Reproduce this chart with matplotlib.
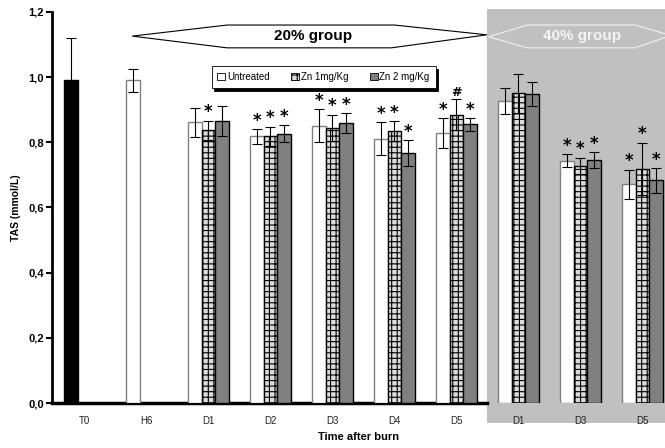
import matplotlib
matplotlib.use("Agg")
import matplotlib.pyplot as plt
import numpy as np
from matplotlib.patches import Polygon, Rectangle, Patch

plt.rcParams["font.family"] = ["Liberation Sans", "DejaVu Sans"]
plt.rcParams["hatch.linewidth"] = 0.8

# baseline bars (single)
base_labels = ["T0", "H6"]
base_mean = [0.99, 0.99]
base_sd = [0.13, 0.035]

# treated groups: 20% burn D1-D5, then 40% burn D1, D3, D5
group_labels = ["D1", "D2", "D3", "D4", "D5", "D1", "D3", "D5"]
untreated = [0.861, 0.818, 0.851, 0.811, 0.829, 0.926, 0.744, 0.671]
untreated_sd = [0.045, 0.022, 0.050, 0.050, 0.045, 0.040, 0.020, 0.045]
zn1 = [0.837, 0.818, 0.845, 0.835, 0.885, 0.951, 0.728, 0.719]
zn1_sd = [0.030, 0.030, 0.040, 0.030, 0.047, 0.060, 0.025, 0.080]
zn2 = [0.865, 0.827, 0.860, 0.766, 0.855, 0.948, 0.745, 0.683]
zn2_sd = [0.045, 0.025, 0.030, 0.040, 0.020, 0.037, 0.025, 0.038]
untreated_sig = ["", "*", "*", "*", "*", "", "*", "*"]
zn1_sig = ["*", "*", "*", "*", "#", "", "*", "*"]
zn2_sig = ["", "*", "*", "*", "*", "", "*", "*"]

series_names = ["Untreated", "Zn 1mg/Kg", "Zn 2 mg/Kg"]

fig = plt.figure(figsize=(6.65, 4.48), dpi=100)
ax = fig.add_axes([52 / 665, 1 - 403 / 448, 613 / 665, 391 / 448])
ax.patch.set_alpha(0)

w = 0.225
n_base = len(base_labels)
xs_all = np.arange(n_base + len(group_labels))
gx = xs_all[n_base:]
grey_start = gx[5] - 0.5

err_kw = dict(ecolor="black", elinewidth=0.8, capsize=3.5, capthick=0.8, zorder=4)

# grey shaded 40% region
ax.add_patch(Rectangle((grey_start, -0.062), 10, 1.272, facecolor="#c0c0c0",
                       edgecolor="none", zorder=0, clip_on=False))

# baseline bars
ax.bar(xs_all[0] - w, base_mean[0], w, color="black", edgecolor="black", lw=1, zorder=3)
ax.errorbar(xs_all[0] - w, base_mean[0], yerr=base_sd[0], fmt="none", **err_kw)
ax.bar(xs_all[1] - w, base_mean[1], w, color="white", edgecolor="#808080", lw=1, zorder=3)
ax.errorbar(xs_all[1] - w, base_mean[1], yerr=base_sd[1], fmt="none", **err_kw)

styles = [
    dict(facecolor="white", edgecolor="#808080", hatch=None),
    dict(facecolor="#dcdcdc", edgecolor="black", hatch="+++"),
    dict(facecolor="#808080", edgecolor="black", hatch=None),
]
series = [(untreated, untreated_sd, untreated_sig),
          (zn1, zn1_sd, zn1_sig),
          (zn2, zn2_sd, zn2_sig)]

for k, ((vals, sds, sig), st) in enumerate(zip(series, styles)):
    x = gx + (k - 1) * w
    ax.bar(x, vals, w, lw=1, zorder=3, **st)
    ax.errorbar(x, vals, yerr=sds, fmt="none", **err_kw)
    for xi, v, s, m in zip(x, vals, sds, sig):
        if m:
            ax.annotate(m, (xi, v + s), xytext=(0, 6 if m == "*" else 5),
                        textcoords="offset points", ha="center", va="center",
                        fontsize=12 if m == "*" else 9, fontweight="bold",
                        family="DejaVu Sans", zorder=5)

# group banners
b20 = [(0.77, 1.126), (2.30, 1.160), (5.00, 1.160), (6.49, 1.130),
       (4.95, 1.090), (2.30, 1.090)]
ax.add_patch(Polygon(b20, closed=True, facecolor="white", edgecolor="black",
                     lw=0.8, zorder=3, clip_on=False))
ax.text(3.69, 1.126, "20% group", ha="center", va="center", fontsize=11,
        fontweight="bold", zorder=4)
b40 = [(6.52, 1.124), (7.14, 1.160), (8.88, 1.160), (9.46, 1.128),
       (8.88, 1.090), (7.14, 1.090)]
ax.add_patch(Polygon(b40, closed=True, facecolor="#c0c0c0", edgecolor="#f0f0f0",
                     lw=0.8, zorder=3, clip_on=False))
ax.text(8.03, 1.126, "40% group", ha="center", va="center", fontsize=11,
        fontweight="bold", color="#f4f4f4", zorder=4)

# axes
ax.set_xlim(-0.524, 9.363)
ax.set_ylim(0, 1.2)
ax.set_xticks(xs_all)
ax.set_xticklabels(base_labels + group_labels, fontsize=7, color="#222222")
ax.tick_params(axis="x", length=0, pad=9)
ax.set_yticks(np.arange(0, 1.21, 0.2))
ax.set_yticklabels([f"{v:.1f}".replace(".", ",") for v in np.arange(0, 1.21, 0.2)],
                   fontsize=8, fontweight="bold")
ax.tick_params(axis="y", length=4, width=1.5, pad=2)
for s in ["top", "right"]:
    ax.spines[s].set_visible(False)
ax.spines["left"].set_linewidth(2)
ax.spines["bottom"].set_linewidth(2.5)
ax.spines["bottom"].set_bounds(-0.524, grey_start)

ax.set_ylabel("TAS (mmol/L)", fontsize=7.5, fontweight="bold", labelpad=5)
ax.set_xlabel("Time after burn", fontsize=8, fontweight="bold", labelpad=5)

handles = [Patch(facecolor=st["facecolor"], edgecolor="black", hatch=st["hatch"], lw=0.6)
           for st in styles]
leg = ax.legend(handles, series_names, loc="center", bbox_to_anchor=(0.443, 0.834),
                ncol=3, fontsize=7, frameon=True, fancybox=False,
                shadow={"color": "black", "alpha": 1},
                handlelength=0.8, handleheight=0.8, handletextpad=0.2,
                columnspacing=2.2, borderpad=0.6, edgecolor="black")
leg.get_frame().set_linewidth(0.6)
leg.set_zorder(6)

fig.savefig("out.png", dpi=100)
